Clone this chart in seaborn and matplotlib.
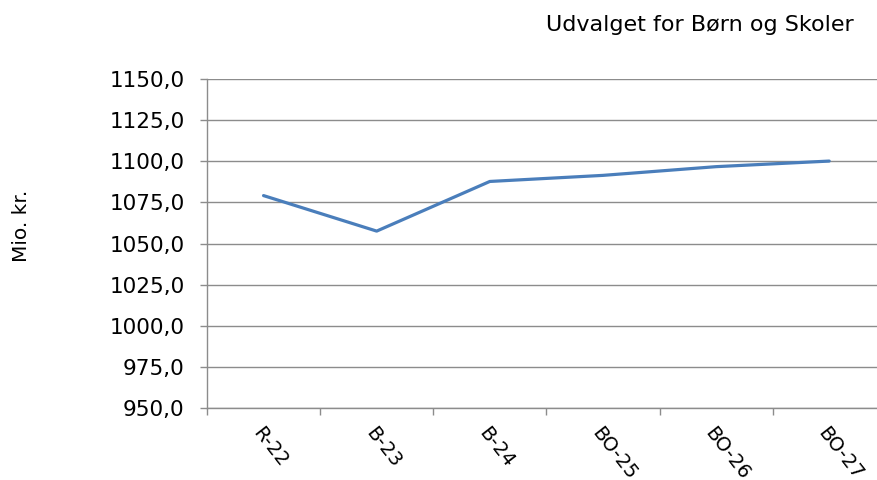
import matplotlib
matplotlib.use("Agg")
import matplotlib.pyplot as plt
import seaborn as sns
import pandas as pd
from matplotlib.ticker import FuncFormatter, FixedLocator

# data
years = ["R-22", "B-23", "B-24", "BO-25", "BO-26", "BO-27"]
amount = [1079.2, 1057.6, 1087.8, 1091.5, 1096.8, 1100.2]

df = pd.DataFrame({"year": years, "amount": amount})

sns.set_style("white")
plt.rcParams["font.family"] = ["DejaVu Sans"]
plt.rcParams["text.color"] = "black"
plt.rcParams["xtick.labelcolor"] = "black"
plt.rcParams["ytick.labelcolor"] = "black"

fig = plt.figure(figsize=(8.77, 4.8), dpi=100)
ax = fig.add_axes([0.236, 0.15, 0.774, 0.685])

sns.lineplot(data=df, x="year", y="amount", ax=ax, color="#4a7ebb", linewidth=2.3, sort=False)

ax.set_ylim(950, 1150)
ax.set_yticks(range(950, 1151, 25))
ax.yaxis.set_major_formatter(FuncFormatter(lambda v, p: "{:.1f}".format(v).replace(".", ",")))
ax.set_xlim(-0.5, 5.5)
ax.grid(axis="y", color="#8c8c8c", linewidth=1.0)
ax.set_axisbelow(True)

# category boundaries as tick marks, labels at centers
ax.xaxis.set_minor_locator(FixedLocator([i - 0.5 for i in range(7)]))
ax.tick_params(axis="x", which="minor", length=5, color="#8c8c8c", width=1, direction="out", bottom=True)
ax.tick_params(axis="x", which="major", length=0, pad=11, labelsize=14, bottom=True)
ax.tick_params(axis="y", length=5, color="#8c8c8c", width=1, direction="out", left=True, labelsize=15.5, pad=11)
plt.setp(ax.get_xticklabels(), rotation=-52, ha="left", va="top", rotation_mode="anchor")

for side in ["top", "right"]:
    ax.spines[side].set_visible(False)
for side in ["left", "bottom"]:
    ax.spines[side].set_color("#8c8c8c")
    ax.spines[side].set_linewidth(1)

ax.set_xlabel("")
ax.set_ylabel("")
fig.text(0.025, 0.529, "Mio. kr.", rotation=90, ha="center", va="center", fontsize=14.5)
fig.text(0.973, 0.948, "Udvalget for Børn og Skoler", ha="right", va="center", fontsize=16)

plt.savefig("out.png", dpi=100)
